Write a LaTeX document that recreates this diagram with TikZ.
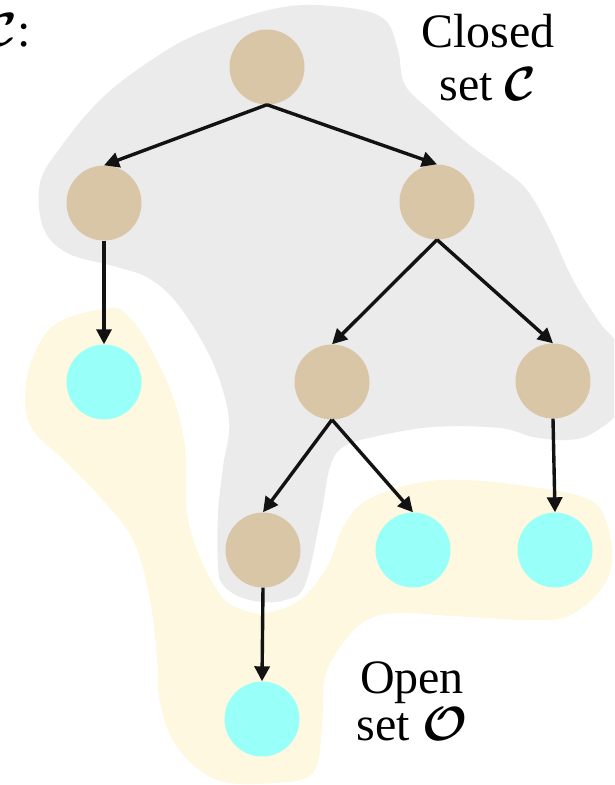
\RequirePackage{fix-cm}
\documentclass[tikz,border=0pt]{standalone}
\usepackage{amsmath}
\usepackage{fontspec}
\setmainfont{Liberation Serif}
\usetikzlibrary{arrows.meta}

\definecolor{closedgray}{HTML}{EBEBEB}
\definecolor{openyellow}{HTML}{FFF8E0}
\definecolor{visited}{HTML}{D8C6A6}
\definecolor{frontier}{HTML}{98FFF9}

\tikzset{
  state/.style={circle, minimum size=75pt, inner sep=0pt, draw=none},
  closednode/.style={state, fill=visited},
  opennode/.style={state, fill=frontier},
  edge/.style={line width=3.4pt, draw=black!93,
    -{Triangle[length=15pt,width=15pt]}},
  label/.style={font=\fontsize{48}{53}\selectfont, inner sep=0pt, align=center, anchor=base}
}

\begin{document}
\begin{tikzpicture}[x=1pt, y=-1pt]
\useasboundingbox (0,0) rectangle (614,785);
\clip (0,0) rectangle (614,785);

% closed set region
\fill[closedgray] plot[smooth cycle, tension=0.6] coordinates {
  (283,7) (350,8) (385,20) (398,50) (405,85) (433,113) (467,143) (500,167)
  (527,190) (550,230) (573,280) (600,323) (620,350) (622,405) (593,433)
  (567,440) (533,437) (500,428) (433,427) (373,437) (343,447) (330,467)
  (321,515) (305,585) (285,600) (263,602) (240,597) (223,585) (218,567)
  (218,513) (223,467) (229,420) (213,363) (180,307) (150,279) (117,267)
  (67,253) (43,227) (40,183) (60,148) (100,100) (147,63) (200,33)
};

% open set region
\fill[openyellow] plot[smooth cycle, tension=0.6] coordinates {
  (110,308) (130,318) (150,347) (173,397) (185,447) (187,513) (200,557)
  (222,597) (243,610) (265,613) (300,600) (327,567) (343,527) (367,500)
  (417,483) (467,480) (533,487) (583,497) (603,513) (612,550) (607,580)
  (583,607) (550,620) (467,617) (400,613) (367,620) (343,643) (325,677)
  (322,727) (313,773) (273,783) (217,780) (177,747) (160,703) (157,660)
  (150,600) (133,540) (100,497) (67,463) (33,430) (25,397) (33,357) (57,323)
};

% search tree
\node[closednode] (root) at (267,67) {};
\node[closednode] (a) at (104,203) {};
\node[closednode] (b) at (437,202) {};
\node[opennode]   (a1) at (104,382) {};
\node[closednode] (b1) at (332,382) {};
\node[closednode] (b2) at (553,381) {};
\node[closednode] (c1) at (263,550) {};
\node[opennode]   (c2) at (413,550) {};
\node[opennode]   (c3) at (555,550) {};
\node[opennode]   (d1) at (262,719) {};

\draw[edge] (root.south) -- (a.north);
\draw[edge] (root.south) -- (b.north);
\draw[edge] (a.south) -- (a1.north);
\draw[edge] (b.south) -- (b1.north);
\draw[edge] (b.south) -- (b2.north);
\draw[edge] (b1.south) -- (c1.north);
\draw[edge] (b1.south) -- (c2.north);
\draw[edge] (b2.south) -- (c3.north);
\draw[edge] (c1.south) -- (d1.north);

% labels (base anchor sits on the last line)
\node[label, anchor=base east] (cl) at (31,46) {$\boldsymbol{\mathcal{C}}$:};
\node[label] (closed) at (488,100) {Closed\\set $\boldsymbol{\mathcal{C}}$};
\node[label, font=\fontsize{48}{47}\selectfont] (open) at (412,740) {Open\\set $\boldsymbol{\mathcal{O}}$};
\end{tikzpicture}
\end{document}
